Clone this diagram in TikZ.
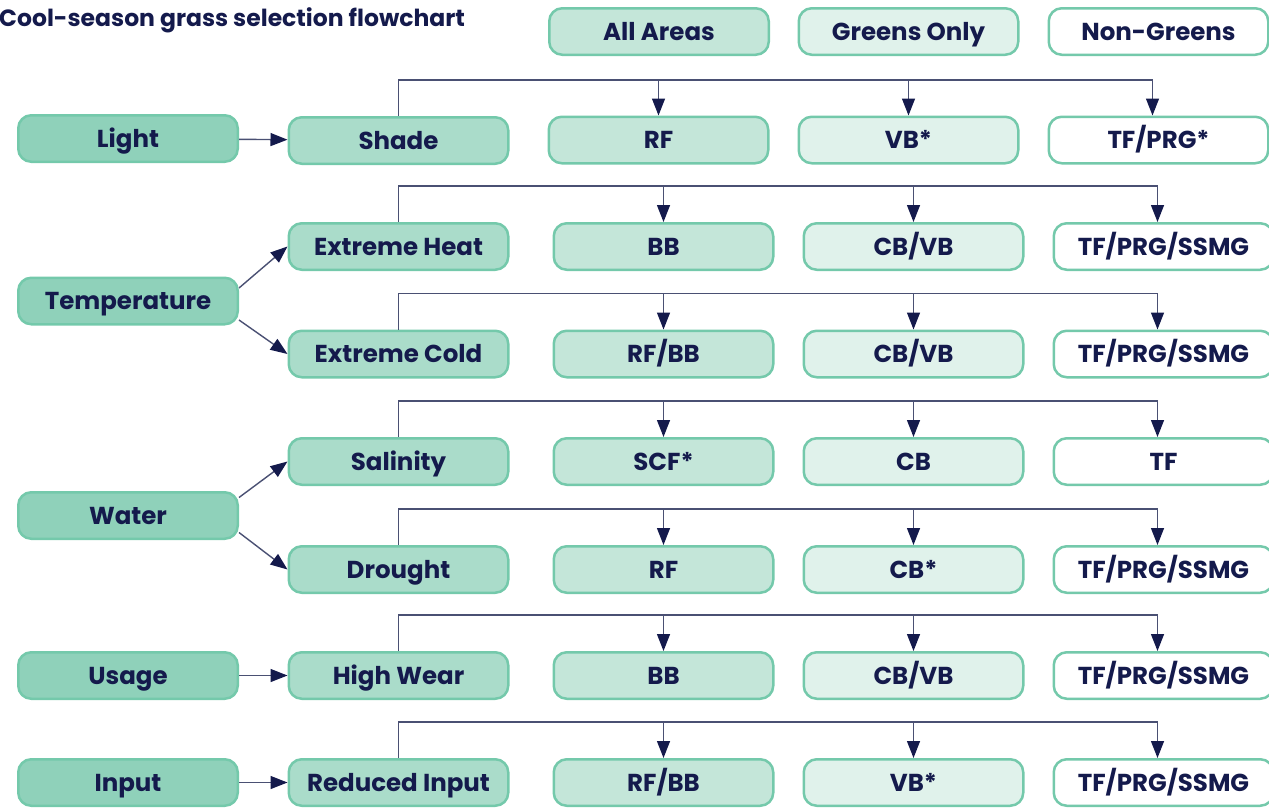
\documentclass[tikz,border=0pt]{standalone}
\usepackage{fontspec}
\setmainfont{Poppins}
\usetikzlibrary{arrows.meta, positioning}

\definecolor{navy}{RGB}{20,26,76}
\definecolor{wirecol}{RGB}{74,80,115}
\definecolor{mint}{RGB}{116,201,171}
\definecolor{catfill}{RGB}{143,209,186}
\definecolor{subfill}{RGB}{170,220,202}
\definecolor{allfill}{RGB}{196,230,217}
\definecolor{greenfill}{RGB}{224,242,235}

\begin{document}
\begin{tikzpicture} [x = 1pt, y = -1pt,
        box/.style = {draw = mint, line width = 2.5pt, rounded corners = 13pt,
            minimum width = 219.5pt, minimum height = 46.5pt, inner sep = 0pt,
            text height = 17.5pt, text depth = 0pt,
            text = navy, font = \bfseries\fontsize{24.5}{26}\selectfont},
        cat/.style = {box, fill = catfill},
        sub/.style = {box, fill = subfill},
        allarea/.style = {box, fill = allfill},
        greensonly/.style = {box, fill = greenfill},
        nongreens/.style = {box, fill = white},
        wire/.style = {draw = wirecol, line width = 1.4pt},
        link/.style = {wire, -{Triangle[length = 17pt, width = 13pt, color = navy]}}]

        \useasboundingbox (0,0) rectangle (1269,811);

        \node (title) [anchor = base west, inner sep = 0pt, text = navy,
            font = \bfseries\fontsize{23.5}{26}\selectfont] at (-1,26) {Cool-season grass selection flowchart};

        % legend
        \node (all) [allarea] at (659,31.5) {All Areas};
        \node (greens) [greensonly] at (908.5,31.5) {Greens Only};
        \node (nongreens) [nongreens] at (1158.5,31.5) {Non-Greens};

        % categories
        \node (light) [cat] at (128,138.5) {Light};
        \node (temperature) [cat] at (128,301) {Temperature};
        \node (water) [cat] at (128,515.5) {Water};
        \node (usage) [cat] at (128,675.5) {Usage};
        \node (input) [cat] at (128,782.5) {Input};

        % conditions
        \node (shade) [sub] at (398.5,140.5) {Shade};
        \node (heat) [sub] at (398.5,246.5) {Extreme Heat};
        \node (cold) [sub] at (398.5,354) {Extreme Cold};
        \node (salinity) [sub] at (398.5,461.5) {Salinity};
        \node (drought) [sub] at (398.5,569.5) {Drought};
        \node (wear) [sub] at (398.5,675.5) {High Wear};
        \node (reduced) [sub] at (398.5,782.5) {Reduced Input};

        % grasses
        \node (shadeall) [allarea] at (658.5,140) {RF};
        \node (shadegreens) [greensonly] at (908.5,140) {VB*};
        \node (shadenon) [nongreens] at (1158.5,140) {TF/PRG*};

        \node (heatall) [allarea] at (663.5,246.5) {BB};
        \node (heatgreens) [greensonly] at (913.5,246.5) {CB/VB};
        \node (heatnon) [nongreens] at (1163.5,246.5) {TF/PRG/SSMG};

        \node (coldall) [allarea] at (663.5,354) {RF/BB};
        \node (coldgreens) [greensonly] at (913.5,354) {CB/VB};
        \node (coldnon) [nongreens] at (1163.5,354) {TF/PRG/SSMG};

        \node (salinityall) [allarea] at (663.5,461.5) {SCF*};
        \node (salinitygreens) [greensonly] at (913.5,461.5) {CB};
        \node (salinitynon) [nongreens] at (1163.5,461.5) {TF};

        \node (droughtall) [allarea] at (663.5,569.5) {RF};
        \node (droughtgreens) [greensonly] at (913.5,569.5) {CB*};
        \node (droughtnon) [nongreens] at (1163.5,569.5) {TF/PRG/SSMG};

        \node (wearall) [allarea] at (663.5,675.5) {BB};
        \node (weargreens) [greensonly] at (913.5,675.5) {CB/VB};
        \node (wearnon) [nongreens] at (1163.5,675.5) {TF/PRG/SSMG};

        \node (reducedall) [allarea] at (663.5,782.5) {RF/BB};
        \node (reducedgreens) [greensonly] at (913.5,782.5) {VB*};
        \node (reducednon) [nongreens] at (1163.5,782.5) {TF/PRG/SSMG};

        % category to condition
        \path [link] (light) -- (shade);
        \path [link] ([yshift = 13pt]temperature.east) -- (heat.west);
        \path [link] ([yshift = -19pt]temperature.east) -- (cold.west);
        \path [link] ([yshift = 18pt]water.east) -- (salinity.west);
        \path [link] ([yshift = -17pt]water.east) -- (drought.west);
        \path [link] (usage) -- (wear);
        \path [link] (input) -- (reduced);

        % condition to grasses
        \foreach \c in {shade, heat, cold, salinity, drought, wear, reduced} {
            \path [link] (\c.north) -- ++(0,-36) -| ([xshift = -6pt]\c non.north);
            \path [link] ([yshift = 36pt]\c all.north) -- (\c all.north);
            \path [link] ([yshift = 36pt]\c greens.north) -- (\c greens.north);
        }

    \end{tikzpicture}
\end{document}
